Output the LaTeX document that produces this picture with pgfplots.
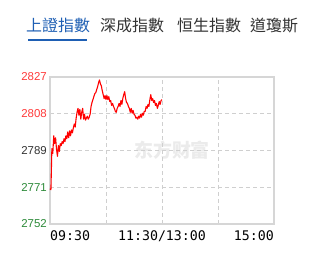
\documentclass[border=0pt]{standalone}
\usepackage{pgfplots}
\pgfplotsset{compat=1.18}
\usepackage{fontspec}
\setmainfont{Liberation Sans}
\newfontfamily\cjk{Noto Sans CJK TC}
\newfontfamily\cjksc{Noto Sans CJK SC}
\newfontfamily\mono{DejaVu Sans Mono}

\definecolor{tabblue}{HTML}{1E5FB4}
\definecolor{tabgray}{HTML}{333333}
\definecolor{upred}{HTML}{FF3B3B}
\definecolor{downgreen}{HTML}{2E8B3A}
\definecolor{framegray}{HTML}{D6D6D6}
\definecolor{gridgray}{HTML}{CFCFCF}
\definecolor{wmgray}{HTML}{EBEBEB}

% Shanghai Composite, minutes after 09:30 vs index level
\pgfplotstableread{
t p
0 2770
1 2769.5
2 2790.5
3 2788
4 2797
5 2793
6 2796
7 2790
8 2786.5
9 2792
10 2789
11 2793
12 2792
13 2794
14 2793
15 2795.5
16 2794
17 2797
18 2795.5
19 2799
20 2796
21 2799.5
22 2797
23 2800
24 2798.5
25 2801
26 2803
27 2801.5
28 2806
29 2809
30 2811
31 2807.5
32 2810.5
33 2805.5
34 2809
35 2811
36 2805.5
37 2808
38 2805
39 2806
40 2807
41 2805.5
42 2806.5
43 2808
44 2812
45 2814
46 2815.5
47 2817
48 2818.5
49 2819
50 2820.5
51 2822
52 2824
53 2825.5
54 2823.5
55 2822.5
56 2820
57 2818
58 2816
59 2817.5
60 2815.5
61 2817.5
62 2815.5
63 2817
64 2814.5
65 2815
66 2812.5
67 2813.5
68 2812
69 2811
70 2809.5
71 2809
72 2811
73 2812
74 2813.5
75 2812
76 2815
77 2813
78 2816
79 2818
80 2819.5
81 2816
82 2814
83 2813.5
84 2812
85 2811
86 2809
87 2811
88 2808.5
89 2810
90 2808
91 2807.5
92 2806
93 2806.5
94 2805.5
95 2807
96 2806
97 2808
98 2806.5
99 2808.5
100 2807.5
101 2809.5
102 2809.5
103 2812
104 2811
105 2813
106 2812
107 2815.5
108 2818
109 2815
110 2816
111 2814
112 2815
113 2812.5
114 2813.5
115 2811
116 2812.5
117 2814.5
118 2813
119 2815
120 2815.5
}\shdata

\begin{document}
\begin{tikzpicture}[x=1bp,y=1bp]
\useasboundingbox (0,0) rectangle (326,271);
\fill[white] (0,0) rectangle (326,271);

% index tabs
\node[anchor=west,inner sep=0,text=tabblue,font=\cjk\fontsize{16}{16}\selectfont] at (26,245.5) {上證指數};
\fill[tabblue] (27.5,230) rectangle (87,232);
\node[anchor=west,inner sep=0,text=tabgray,font=\cjk\fontsize{16}{16}\selectfont] at (100,245.5) {深成指數};
\node[anchor=west,inner sep=0,text=tabgray,font=\cjk\fontsize{16}{16}\selectfont] at (177,245.5) {恒生指數};
\node[anchor=west,inner sep=0,text=tabgray,font=\cjk\fontsize{16}{16}\selectfont] at (250,245.5) {道瓊斯};

% watermark
\node[text=wmgray,font=\cjksc\bfseries\fontsize{19}{19}\selectfont,inner sep=0] at (172,121) {东方财富};

\begin{axis}[
  at={(50bp,47bp)}, anchor=south west,
  width=224bp, height=147bp, scale only axis,
  xmin=0, xmax=240,
  ymin=2752, ymax=2827,
  axis line style={framegray, line width=1.2pt},
  xtick={60,120,180}, xticklabels={},
  ytick={2752,2770.75,2789.5,2808.25,2827},
  yticklabels={\textcolor{downgreen}{2752},\textcolor{downgreen}{2771},\textcolor{black!80}{2789},\textcolor{upred}{2808},\textcolor{upred}{2827}},
  yticklabel style={font=\fontsize{11.5}{11.5}\selectfont, inner sep=0pt, xshift=-3bp},
  major tick length=0pt,
  grid=major,
  major grid style={gridgray, dashed, dash pattern=on 4bp off 3bp, line width=0.8pt},
  clip=false,
]
\addplot[red, line width=1.1pt, line join=round] table[x=t,y=p] {\shdata};
\node[anchor=north west, inner sep=0, font=\mono\fontsize{13.3}{13.3}\selectfont] at (axis cs:0,2752) [yshift=-6bp] {09:30};
\node[anchor=north, inner sep=0, font=\mono\fontsize{13.3}{13.3}\selectfont] at (axis cs:120,2752) [yshift=-6bp] {11:30/13:00};
\node[anchor=north east, inner sep=0, font=\mono\fontsize{13.3}{13.3}\selectfont] at (axis cs:240,2752) [yshift=-6bp] {15:00};
\end{axis}
\end{tikzpicture}
\end{document}
